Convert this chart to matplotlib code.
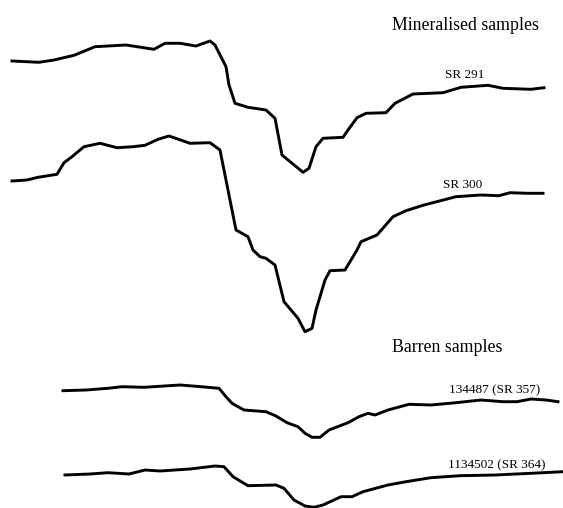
import matplotlib
matplotlib.use("Agg")
import matplotlib.pyplot as plt

# Stacked spectra (plot units: x to the right, y downward)

sr291_x = [12, 39, 54, 74, 95, 126, 154, 165, 180, 196, 210, 215, 226, 229, 235,
           248, 266, 275, 282, 303, 309, 316, 323, 343, 348, 357, 366, 386, 395,
           413, 443, 461, 488, 503, 531, 544]
sr291_y = [61, 62.3, 60, 55.3, 46.7, 45, 49.3, 43.3, 43.3, 46, 41, 45, 66.7, 85,
           103.3, 107.3, 110, 118.3, 155, 172.3, 168.3, 146.7, 138.3, 137.3, 130,
           117.7, 113.3, 112.7, 103.3, 94, 92.7, 87.3, 85.3, 88.3, 89.3, 87.7]

sr300_x = [12, 27, 38, 57, 64, 72, 84, 100, 117, 133, 145, 158, 169, 190, 210,
           220, 226, 232, 236, 248, 253, 260, 266, 275, 284, 298, 305, 312, 316,
           325, 330, 345, 350, 357, 361, 377, 393, 406, 424, 456, 481, 499, 510,
           528, 543]
sr300_y = [181, 180, 177.3, 174.3, 162.7, 156.7, 146.7, 143.3, 147.7, 146.7,
           145.3, 139.3, 136, 143.3, 142.7, 150, 180, 210, 230, 236.7, 250, 256.7,
           258.3, 265, 301.7, 318.3, 331.7, 328.3, 310, 280, 270.7, 270, 261.7,
           250, 241.7, 235, 216.7, 210.7, 205, 196.7, 195, 195.7, 192.7, 193.3,
           193.3]

b357_x = [63, 86, 108, 122, 144, 180, 201, 219, 226, 232, 244, 266, 276, 287,
          298, 305, 312, 320, 329, 348, 359, 368, 375, 388, 409, 431, 456, 481,
          503, 517, 531, 546, 558]
b357_y = [390.7, 390, 388.3, 386.7, 387.3, 385, 386.7, 388.3, 396.7, 403.3, 410,
          411.7, 416, 422.7, 426.7, 433.3, 437.3, 437.3, 430, 422.7, 416.7, 413.3,
          415, 410, 404.3, 405, 402.7, 400, 401.7, 401.7, 399, 400, 401.7]

b364_x = [65, 90, 108, 129, 145, 160, 190, 215, 224, 233, 248, 276, 284, 294,
          305, 314, 323, 341, 352, 363, 388, 406, 431, 460, 495, 531, 563]
b364_y = [475, 474, 472.7, 474, 470, 471, 469, 466, 466.7, 476.7, 485.7, 485,
          488.3, 500, 506, 507.3, 505, 496.7, 496.7, 491.7, 485, 481.7, 477.7,
          475.7, 475, 473.3, 471.7]

spectra = [
    (sr291_x, sr291_y, "SR 291", 465, 75),
    (sr300_x, sr300_y, "SR 300", 463, 185),
    (b357_x, b357_y, "134487 (SR 357)", 495, 390),
    (b364_x, b364_y, "1134502 (SR 364)", 497, 465),
]
group_labels = [("Mineralised samples", 465, 25), ("Barren samples", 447, 348)]

plt.rcParams["font.family"] = ["Liberation Serif", "DejaVu Serif"]

fig = plt.figure(figsize=(5.63, 5.08), dpi=100)
ax = fig.add_axes([0, 0, 1, 1])

for xs, ys, name, tx, ty in spectra:
    ax.plot(xs, ys, color="black", lw=2.1, solid_joinstyle="round")
    ax.text(tx, ty, name, ha="center", va="center", fontsize=9.5)

for name, tx, ty in group_labels:
    ax.text(tx, ty, name, ha="center", va="center", fontsize=12.8)

ax.set_xlim(0, 563)
ax.set_ylim(508, 0)
ax.axis("off")

plt.savefig("out.png", dpi=100)
plt.close()
